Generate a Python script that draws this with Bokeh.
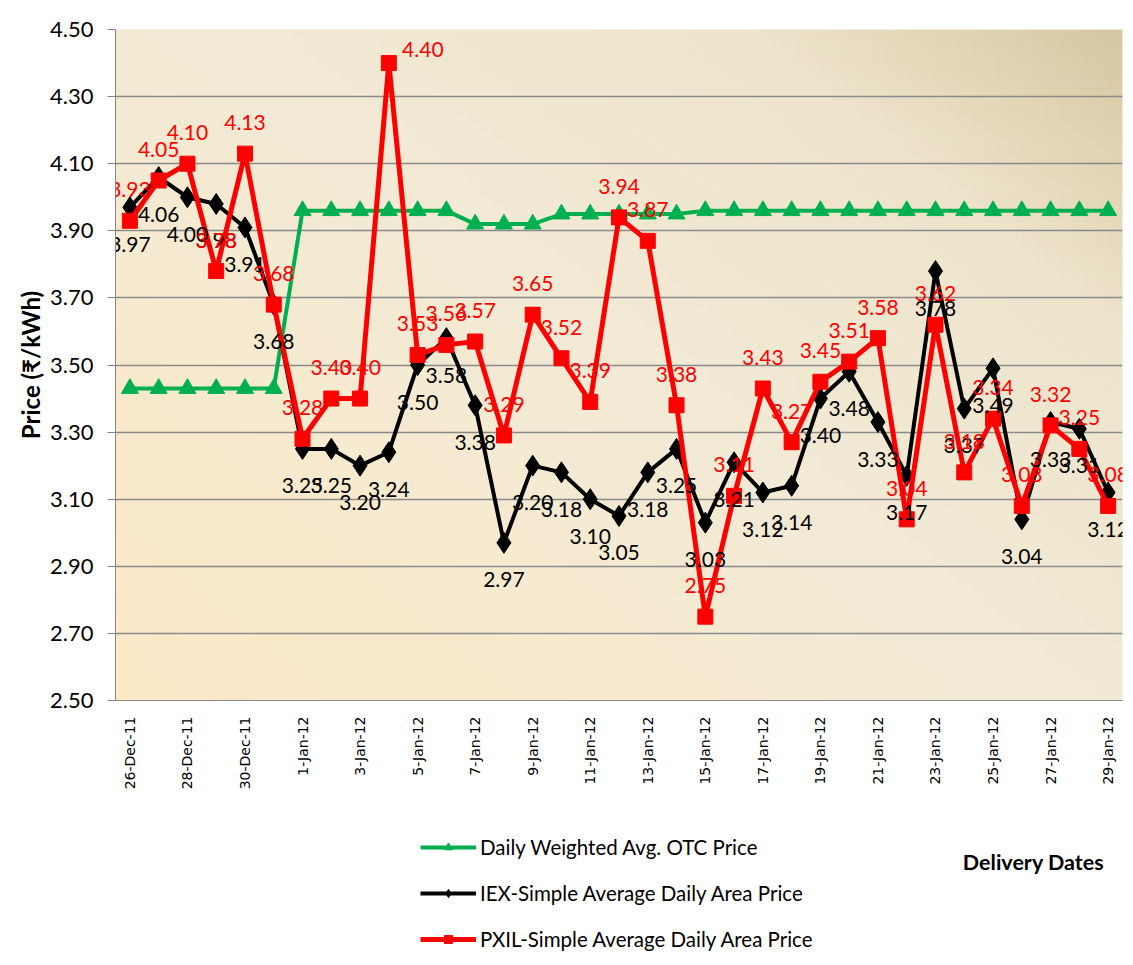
import numpy as np
from bokeh.plotting import figure
from bokeh.layouts import column
from bokeh.models import (ColumnDataSource, Legend, LegendItem, Label, FixedTicker,
                          NumeralTickFormatter, Range1d)
from bokeh.core.properties import value
from bokeh.embed import file_html
from bokeh.resources import INLINE

# ---------------- data ----------------
dates = ["26-Dec-11", "27-Dec-11", "28-Dec-11", "29-Dec-11", "30-Dec-11", "31-Dec-11",
         "1-Jan-12", "2-Jan-12", "3-Jan-12", "4-Jan-12", "5-Jan-12", "6-Jan-12",
         "7-Jan-12", "8-Jan-12", "9-Jan-12", "10-Jan-12", "11-Jan-12", "12-Jan-12",
         "13-Jan-12", "14-Jan-12", "15-Jan-12", "16-Jan-12", "17-Jan-12", "18-Jan-12",
         "19-Jan-12", "20-Jan-12", "21-Jan-12", "22-Jan-12", "23-Jan-12", "24-Jan-12",
         "25-Jan-12", "26-Jan-12", "27-Jan-12", "28-Jan-12", "29-Jan-12"]

otc = [3.43, 3.43, 3.43, 3.43, 3.43, 3.43,
       3.96, 3.96, 3.96, 3.96, 3.96, 3.96,
       3.92, 3.92, 3.92, 3.95, 3.95, 3.95,
       3.95, 3.95, 3.96, 3.96, 3.96, 3.96,
       3.96, 3.96, 3.96, 3.96, 3.96, 3.96,
       3.96, 3.96, 3.96, 3.96, 3.96]

iex = [3.97, 4.06, 4.00, 3.98, 3.91, 3.68,
       3.25, 3.25, 3.20, 3.24, 3.50, 3.58,
       3.38, 2.97, 3.20, 3.18, 3.10, 3.05,
       3.18, 3.25, 3.03, 3.21, 3.12, 3.14,
       3.40, 3.48, 3.33, 3.17, 3.78, 3.37,
       3.49, 3.04, 3.33, 3.31, 3.12]

pxil = [3.93, 4.05, 4.10, 3.78, 4.13, 3.68,
        3.28, 3.40, 3.40, 4.40, 3.53, 3.56,
        3.57, 3.29, 3.65, 3.52, 3.39, 3.94,
        3.87, 3.38, 2.75, 3.11, 3.43, 3.27,
        3.45, 3.51, 3.58, 3.04, 3.62, 3.18,
        3.34, 3.08, 3.32, 3.25, 3.08]

y_ticks = [2.50, 2.70, 2.90, 3.10, 3.30, 3.50, 3.70, 3.90, 4.10, 4.30, 4.50]

series_names = ["Daily Weighted Avg. OTC Price",
                "IEX-Simple Average Daily Area Price",
                "PXIL-Simple Average Daily Area Price"]
x_title = "Delivery Dates"
y_title = "Price (₹/kWh)"

# ---------------- main figure ----------------
idx = list(range(len(dates)))
x0, x1 = -0.5, len(dates) - 0.5
y0, y1 = y_ticks[0], y_ticks[-1]

FONT = "Lato"
GREEN, BLACK, RED = "#00B050", "black", "#FF0000"
W = 1130

p = figure(width=W, height=800, output_backend="svg", toolbar_location=None,
           x_range=Range1d(x0, x1), y_range=Range1d(y0, y1),
           min_border_left=115, min_border_right=8, min_border_top=29, min_border_bottom=100)
p.outline_line_color = None
p.background_fill_color = "#F2EAD5"
p.border_fill_color = "white"

# background gradient (style only)
n = 80
u = np.linspace(0, 1, n)[None, :]
v = np.linspace(0, 1, n)[:, None]
t = (0.55 * u + 0.45 * v)
stops_t = [0.0, 0.5, 0.8, 1.0]
stops_c = [(252, 233, 200), (243, 235, 214), (238, 228, 204), (214, 200, 162)]
rgb = np.zeros((n, n, 3))
for ch in range(3):
    rgb[..., ch] = np.interp(t, stops_t, [c[ch] for c in stops_c])
img = np.empty((n, n), dtype=np.uint32)
view = img.view(dtype=np.uint8).reshape((n, n, 4))
view[..., 0] = rgb[..., 0].astype(np.uint8)
view[..., 1] = rgb[..., 1].astype(np.uint8)
view[..., 2] = rgb[..., 2].astype(np.uint8)
view[..., 3] = 255
p.image_rgba(image=[img], x=x0, y=y0, dw=x1 - x0, dh=y1 - y0, level="image")

# grid
p.xgrid.grid_line_color = None
p.ygrid.grid_line_color = "#8A8A8A"
p.ygrid.grid_line_width = 1.6
p.ygrid.ticker = FixedTicker(ticks=y_ticks)

# y axis
p.yaxis.ticker = FixedTicker(ticks=y_ticks)
p.yaxis.formatter = NumeralTickFormatter(format="0.00")
p.yaxis.major_label_text_font = FONT
p.yaxis.major_label_text_font_size = "22px"
p.yaxis.major_label_text_color = "black"
p.yaxis.axis_line_color = "#868686"
p.yaxis.major_tick_line_color = "#868686"
p.yaxis.major_tick_out = 8
p.yaxis.major_tick_in = 0
p.yaxis.minor_tick_line_color = None
p.yaxis.major_label_standoff = 14
p.yaxis.axis_label = y_title
p.yaxis.axis_label_text_font = FONT
p.yaxis.axis_label_text_font_style = "bold"
p.yaxis.axis_label_text_font_size = "24px"
p.yaxis.axis_label_text_color = "black"
p.yaxis.axis_label_standoff = 2

# x axis
p.xaxis.ticker = FixedTicker(ticks=idx[::2])
p.xaxis.major_label_overrides = {i: dates[i] for i in idx[::2]}
p.xaxis.major_label_orientation = np.pi / 2
p.xaxis.major_label_text_font = "DejaVu Sans"
p.xaxis.major_label_text_font_size = "14px"
p.xaxis.major_label_text_color = "black"
p.xaxis.axis_line_color = "#868686"
p.xaxis.major_tick_line_color = None
p.xaxis.minor_tick_line_color = None
p.xaxis.major_label_standoff = 10

src = ColumnDataSource(dict(x=idx, otc=otc, iex=iex, pxil=pxil,
                            iex_lbl=[f"{v_:.2f}" for v_ in iex],
                            pxil_lbl=[f"{v_:.2f}" for v_ in pxil]))

STYLE = {
    "otc": dict(color=GREEN, width=4, marker="triangle", size=17),
    "iex": dict(color=BLACK, width=4, marker="diamond", size=21),
    "pxil": dict(color=RED, width=5, marker="square", size=15),
}


def draw(fig, key):
    s = STYLE[key]
    ln = fig.line("x", key, source=src, line_color=s["color"], line_width=s["width"])
    mk = fig.scatter("x", key, source=src, marker=s["marker"], size=s["size"],
                     fill_color=s["color"], line_color=s["color"])
    return ln, mk


for key in ["otc", "iex", "pxil"]:
    draw(p, key)

# data labels
LBL = "21px"
p.text("x", "iex", text="iex_lbl", source=src, text_font=value(FONT),
       text_font_size=LBL, text_color="black", text_align="center",
       text_baseline="middle", y_offset=37)

top_limit = y1 - 0.12
src.data["r_xoff"] = [34 if v_ > top_limit else 0 for v_ in pxil]
src.data["r_yoff"] = [-14 if v_ > top_limit else -31 for v_ in pxil]
p.text("x", "pxil", text="pxil_lbl", source=src, text_font=value(FONT),
       text_font_size=LBL, text_color=RED, text_align="center",
       text_baseline="middle", x_offset="r_xoff", y_offset="r_yoff")

# ---------------- legend strip (second figure) ----------------
# the series are drawn again here only as legend sources; the ranges keep them out of view
p2 = figure(width=W, height=160, output_backend="svg", toolbar_location=None,
            x_range=Range1d(-1000, -999), y_range=Range1d(-1000, -999),
            min_border_left=0, min_border_right=0, min_border_top=0, min_border_bottom=0,
            x_axis_location=None, y_axis_location=None)
p2.grid.visible = False
p2.outline_line_color = None
p2.background_fill_color = "white"
p2.border_fill_color = "white"

items = []
for key, name in zip(["otc", "iex", "pxil"], series_names):
    ln, mk = draw(p2, key)
    items.append(LegendItem(label=name, renderers=[ln, mk]))

legend = Legend(items=items, location=(305, 9), orientation="vertical",
                background_fill_alpha=0, border_line_color=None,
                label_text_font=FONT, label_text_font_size="20.5px",
                label_text_color="black",
                glyph_width=56, glyph_height=20, label_height=20,
                spacing=22, padding=0, margin=0, label_standoff=4)
p2.add_layout(legend)

p2.add_layout(Label(x=918, y=99, x_units="screen", y_units="screen",
                    text=x_title, text_font=FONT, text_font_style="bold",
                    text_font_size="21.5px", text_color="black",
                    text_align="center", text_baseline="middle"))

layout = column(p, p2, spacing=0)
open("out.html", "w").write(file_html(layout, INLINE))
